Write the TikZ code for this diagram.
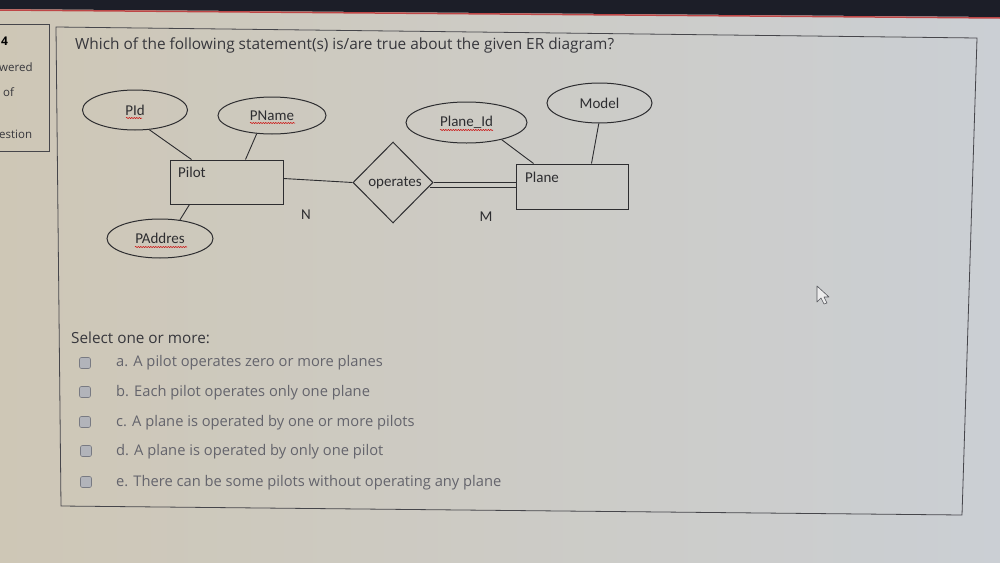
\documentclass[tikz,border=0pt]{standalone}
\usepackage{fontspec}
\setmainfont{Open Sans}
\newfontfamily\calib{Carlito}
\usetikzlibrary{shapes.geometric,calc,decorations.pathmorphing}
\definecolor{bgl}{RGB}{206,199,182}
\definecolor{bgr}{RGB}{203,207,212}
\definecolor{ink}{RGB}{45,45,48}
\definecolor{qtxt}{RGB}{55,55,60}
\definecolor{opt}{RGB}{100,100,108}
\definecolor{bar}{RGB}{28,30,40}
\definecolor{redline}{RGB}{190,70,70}
\definecolor{frame}{RGB}{70,70,75}
\definecolor{cbfill}{RGB}{178,180,186}
\definecolor{cbdraw}{RGB}{120,122,130}
\begin{document}
\begin{tikzpicture}[x=1pt,y=-1pt,
 attr/.style={ellipse,draw=ink,line width=1pt,inner sep=0pt,font=\calib\fontsize{15}{17}\selectfont,text=ink},
 ent/.style={rectangle,draw=ink,line width=1pt,inner sep=0pt},
 rel/.style={diamond,draw=ink,line width=1pt,inner sep=0pt,aspect=1},
 lbl/.style={font=\calib\fontsize{15}{17}\selectfont,text=ink,inner sep=0pt},
 link/.style={draw=ink,line width=0.9pt},
 squig/.style={draw=red!80!black,line width=0.5pt,decorate,decoration={snake,amplitude=0.6pt,segment length=2.5pt}},
 cbox/.style={rectangle,rounded corners=2pt,draw=cbdraw,fill=cbfill,minimum width=11pt,minimum height=11pt,inner sep=0pt,line width=0.6pt},
 opttxt/.style={anchor=west,inner sep=0pt,font=\fontsize{14.7}{17}\selectfont,text=opt},
 side/.style={anchor=west,inner sep=0pt,font=\fontsize{11.5}{13}\selectfont,text=qtxt}
]
\useasboundingbox (0,0) rectangle (1000,562);
\shade[left color=bgl,right color=bgr] (0,0) rectangle (1000,562);
% top bar
\fill[bar] (0,0) -- (1000,0) -- (1000,17) -- (0,9) -- cycle;
\draw[redline,line width=1.5pt] (0,10) -- (1000,18);
% sidebar
\draw[frame,line width=0.8pt] (-2,24) -- (49,24) -- (49,151) -- (-2,151);
\node[side,font=\bfseries\fontsize{12}{14}\selectfont,text=black] (s4) at (1,41) {4};
\node[side] (s1) at (-1,67) {wered};
\node[side] (s2) at (3,92) {of};
\node[side] (s3) at (-1,134) {estion};
% panel
\draw[frame,line width=0.8pt] (56,27) -- (977,38) -- (962,515) -- (61,506) -- cycle;
\node[anchor=west,inner sep=0pt,font=\fontsize{15.4}{18}\selectfont,text=qtxt] (q) at (75,45) {Which of the following statement(s) is/are true about the given ER diagram?};
% ER diagram
\node[attr,minimum width=105pt,minimum height=40pt] (pid) at (135,110) {PId};
\node[attr,minimum width=108pt,minimum height=37pt] (pname) at (272,115.5) {PName};
\node[ent,minimum width=113pt,minimum height=44pt] (pilot) at (226.5,182) {};
\node[lbl,anchor=west] (pilotlbl) at (178,172) {Pilot};
\node[attr,minimum width=106pt,minimum height=39pt] (paddr) at (160,238.5) {PAddres};
\node[rel,minimum width=80pt,minimum height=81pt] (op) at (393,182.5) {};
\node[lbl] (oplbl) at (395,183) {operates};
\node[ent,minimum width=112pt,minimum height=45pt] (plane) at (572,186.5) {};
\node[lbl,anchor=west] (planelbl) at (525,177) {Plane};
\node[attr,minimum width=121pt,minimum height=41pt] (plid) at (466.5,122.5) {Plane\_Id};
\node[attr,minimum width=105pt,minimum height=40pt] (model) at (599.5,103) {Model};
\node[lbl] (n) at (306,215) {N};
\node[lbl] (m) at (486,217) {M};
\draw[link] (pid.-54) -- ($(pilot.north west)+(22,0)$);
\draw[link] (pname.-130) -- ($(pilot.north west)+(76,0)$);
\draw[link] ($(pilot.south west)+(20,0)$) -- (paddr.43);
\draw[link] ($(pilot.north east)+(0,19)$) -- (op.west);
\draw[link] (op.east) -- ($(plane.north west)+(0,19)$);
\draw[link] ($(op.east)+(-4,5)$) -- ($(plane.north west)+(0,24)$);
\draw[link] (plid.-26) -- ($(plane.north west)+(18,0)$);
\draw[link] (model.-92) -- ($(plane.north west)+(76,0)$);
% spell-check underlines
\draw[squig] (126,118) -- (142,118);
\draw[squig] (250,123) -- (295,123);
\draw[squig] (440,130) -- (493,130);
\draw[squig] (135,247) -- (187,247);
% options
\node[anchor=west,inner sep=0pt,font=\fontsize{15.3}{18}\selectfont,text=qtxt] (sel) at (71,338) {Select one or more:};
\node[cbox] (cba) at (85,363) {};
\node[cbox] (cbb) at (85,392) {};
\node[cbox] (cbc) at (85,422) {};
\node[cbox] (cbd) at (86,451) {};
\node[cbox] (cbe) at (86,482) {};
\node[opttxt] (oa) at (116,363) {a. A pilot operates zero or more planes};
\node[opttxt] (ob) at (116,393) {b. Each pilot operates only one plane};
\node[opttxt] (oc) at (116,423) {c. A plane is operated by one or more pilots};
\node[opttxt] (od) at (116,452) {d. A plane is operated by only one pilot};
\node[opttxt] (oe) at (116,483) {e. There can be some pilots without operating any plane};
% cursor
\draw[cbdraw!70!black,fill=white!85!gray,line width=0.6pt,line join=round]
 (817,286) -- (817,302) -- (821,298) -- (824,304) -- (827,303) -- (824,297) -- (829,297) -- cycle;
\end{tikzpicture}
\end{document}
